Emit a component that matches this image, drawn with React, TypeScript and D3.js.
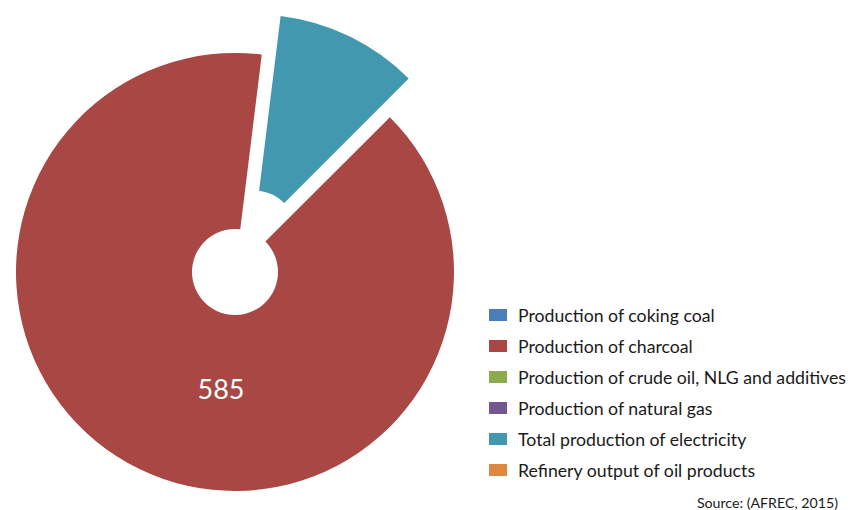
import * as d3 from "d3";
import React, { useRef, useEffect } from "react";

const width = 850;
const height = 510;

const categories = [
  "Production of coking coal",
  "Production of charcoal",
  "Production of crude oil, NLG and additives",
  "Production of natural gas",
  "Total production of electricity",
  "Refinery output of oil products",
];
const values = [0, 585, 0, 0, 69, 0];
const labels = ["", "585", "", "", "", ""];
const exploded = [false, false, false, false, true, false];
const colors = ["#4A7EBB", "#A94744", "#8BAB4E", "#71598F", "#4299AF", "#DE873E"];
const source = "Source: (AFREC, 2015)";

const font = "Lato, 'Open Sans', sans-serif";

function Chart() {
  const ref = useRef(null);

  useEffect(() => {
    const svg = d3.select(ref.current);
    svg.selectAll("*").remove();

    const cx = 235;
    const cy = 272;
    const outer = 219;
    const inner = 43;
    const explode = 43;

    const data = categories.map((c, i) => ({ name: c, value: values[i], i }));

    const pie = d3
      .pie<any>()
      .sort(null)
      .value((d: any) => d.value)
      .startAngle(Math.PI / 4)
      .endAngle(Math.PI / 4 + 2 * Math.PI);

    const arc = d3.arc<any>().innerRadius(inner).outerRadius(outer);

    const g = svg.append("g").attr("transform", `translate(${cx},${cy})`);

    const arcs = pie(data).filter((a) => a.value > 0);

    g.selectAll(".slice")
      .data(arcs)
      .join("path")
      .attr("class", "slice")
      .attr("fill", (d: any) => colors[d.data.i])
      .attr("transform", (d: any) => {
        if (!exploded[d.data.i]) return null;
        const mid = (d.startAngle + d.endAngle) / 2;
        return `translate(${Math.sin(mid) * explode},${-Math.cos(mid) * explode})`;
      })
      .attr("d", arc as any);

    // data label (placed where Excel puts it, lower part of the big slice)
    g.selectAll(".lbl")
      .data(arcs.filter((d: any) => labels[d.data.i]))
      .join("text")
      .attr("class", "lbl")
      .attr("x", () => Math.sin(Math.PI + 0.12) * 117)
      .attr("y", () => -Math.cos(Math.PI + 0.12) * 117)
      .attr("text-anchor", "middle")
      .attr("dominant-baseline", "central")
      .attr("fill", "#ffffff")
      .style("font-family", font)
      .style("font-size", "27px")
      .text((d: any) => labels[d.data.i]);

    // legend
    const legend = svg.append("g").attr("transform", "translate(489,315)");
    const rows = legend
      .selectAll(".row")
      .data(categories)
      .join("g")
      .attr("class", "row")
      .attr("transform", (d, i) => `translate(0,${i * 31})`);

    rows
      .append("rect")
      .attr("x", 0)
      .attr("y", -6)
      .attr("width", 18)
      .attr("height", 12)
      .attr("fill", (d, i) => colors[i]);

    rows
      .append("text")
      .attr("x", 29)
      .attr("y", 0)
      .attr("dominant-baseline", "central")
      .attr("fill", "#1a1a1a")
      .style("font-family", font)
      .style("font-size", "17.7px")
      .text((d) => d);

    svg
      .append("text")
      .attr("x", 838)
      .attr("y", 502)
      .attr("text-anchor", "end")
      .attr("dominant-baseline", "central")
      .attr("fill", "#1a1a1a")
      .style("font-family", font)
      .style("font-size", "14.2px")
      .text(source);
  }, []);

  return <svg ref={ref} width={width} height={height} style={{ display: "block" }}></svg>;
}

export default function App() {
  return (
    <div
      style={{
        position: "fixed",
        left: 0,
        top: 0,
        width: width,
        height: height,
        overflow: "hidden",
        background: "#ffffff",
      }}
    >
      <Chart />
    </div>
  );
}
